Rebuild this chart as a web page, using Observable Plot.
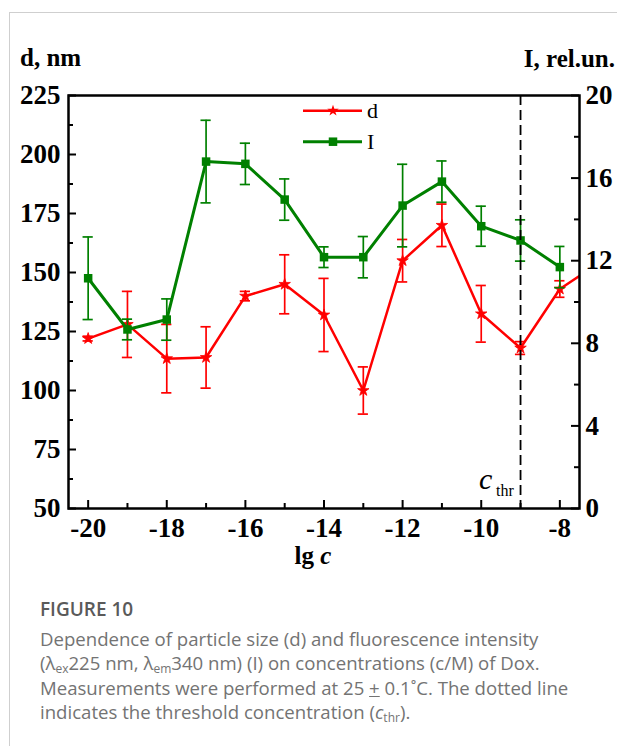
<!DOCTYPE html>
<html><head><meta charset="utf-8">
<script src="https://cdn.jsdelivr.net/npm/d3@7"></script>
<script src="https://cdn.jsdelivr.net/npm/@observablehq/plot@0.6"></script>
<style>
html,body{margin:0;padding:0;background:#fff;overflow:hidden;width:617px;height:746px;}
#box{position:absolute;left:9px;top:12px;width:800px;height:900px;border-left:1px solid #cfcfcf;border-top:1px solid #cfcfcf;}
#chart{position:absolute;left:0;top:0;}
#caption{position:absolute;left:40px;top:597px;font-family:"Open Sans";font-size:18.6px;line-height:24.2px;color:#737373;white-space:nowrap;}
#caption .fig{color:#5a5a5a;font-weight:600;font-size:19px;margin-bottom:6px;}
#caption sub{font-size:12px;line-height:12px;vertical-align:baseline;position:relative;top:3px;}
</style></head><body>
<div id="box"></div>
<div id="chart"></div>
<div id="caption">
<div class="fig">FIGURE 10</div>
Dependence of particle size (d) and fluorescence intensity<br>
(λ<sub>ex</sub>225 nm, λ<sub>em</sub>340 nm) (I) on concentrations (c/M) of Dox.<br>
Measurements were performed at 25 <u>+</u> 0.1˚C. The dotted line<br>
indicates the threshold concentration (<i>c</i><sub>thr</sub>).
</div>
<script>
// ---- data ----
const lgc   = [-20, -19, -18, -17, -16, -15, -14, -13, -12, -11, -10, -9, -8];
const dVals = [122, 128, 113.5, 114, 140, 145, 132, 100, 155, 170, 132.5, 118, 143];
const dErr  = [1, 14, 14.5, 13, 2, 12.5, 15.5, 10, 9, 9, 12, 2.7, 3.5];
const IVals = [11.15, 8.67, 9.15, 16.8, 16.69, 14.96, 12.17, 12.17, 14.67, 15.83, 13.67, 12.98, 11.69];
const IErr  = [2.0, 0.5, 1.0, 2.0, 1.0, 1.0, 0.5, 1.0, 2.0, 1.0, 0.97, 1.0, 1.0];
// red curve continues beyond the frame (clipped)
const lgcTail = [-7];
const dTail   = [154];
const cThr = -9;
const xMajor = [-20, -18, -16, -14, -12, -10, -8];
const xMinor = [-19, -17, -15, -13, -11, -9];
const dMajor = [50, 75, 100, 125, 150, 175, 200, 225];
const dMinor = [62.5, 87.5, 112.5, 137.5, 162.5, 187.5, 212.5];
const IMajor = [0, 4, 8, 12, 16, 20];
const IMinor = [2, 6, 10, 14, 18];

// ---- layout ----
const W = 617, H = 590, mL = 68, mR = 38, mT = 95, mB = 82;
const fw = W - mL - mR, fh = H - mT - mB;
const RED = "#ff0000", GREEN = "#008000";
const toD = i => 50 + i * 175 / 20;           // right axis (I) onto left axis (d)
const fromD = v => (v - 50) * 20 / 175;

const rows = lgc.map((x, k) => ({x, d: dVals[k], de: dErr[k], I: IVals[k], ie: IErr[k]}));
const redLine = rows.map(r => ({x: r.x, d: r.d})).concat(lgcTail.map((x, k) => ({x, d: dTail[k]})));
const cap = 0.13;

const chart = Plot.plot({
  width: W, height: H,
  marginLeft: mL, marginRight: mR, marginTop: mT, marginBottom: mB,
  style: {fontFamily: "Liberation Serif", fontSize: "27px", fontWeight: "bold", color: "black", background: "transparent"},
  x: {domain: [-20.5, -7.5]},
  y: {domain: [50, 225]},
  marks: [
    // ticks (inward)
    Plot.tickX(xMajor, {x: v => v, insetTop: fh - 8, stroke: "black", strokeWidth: 2}),
    Plot.tickX(xMinor, {x: v => v, insetTop: fh - 5, stroke: "black", strokeWidth: 2}),
    Plot.tickY(dMajor, {y: v => v, insetRight: fw - 8, stroke: "black", strokeWidth: 2}),
    Plot.tickY(dMinor, {y: v => v, insetRight: fw - 5, stroke: "black", strokeWidth: 2}),
    Plot.tickY(IMajor, {y: toD, insetLeft: fw - 8, stroke: "black", strokeWidth: 2}),
    Plot.tickY(IMinor, {y: toD, insetLeft: fw - 5, stroke: "black", strokeWidth: 2}),
    // axes labels
    Plot.axisX(xMajor, {anchor: "bottom", tickSize: 0, tickPadding: 9, tickFormat: v => String(v), label: null}),
    Plot.axisY(dMajor, {anchor: "left", tickSize: 0, tickPadding: 8, tickFormat: v => String(v), label: null}),
    Plot.axisY(IMajor.map(toD), {anchor: "right", tickSize: 0, tickPadding: 6, tickFormat: v => String(Math.round(fromD(v))), label: null}),
    // d series (red)
    Plot.line(redLine, {x: "x", y: "d", stroke: RED, strokeWidth: 2.5, clip: true}),
    Plot.ruleX(rows, {x: "x", y1: r => r.d - r.de, y2: r => r.d + r.de, stroke: RED, strokeWidth: 1.7}),
    Plot.ruleY(rows, {y: r => r.d - r.de, x1: r => r.x - cap, x2: r => r.x + cap, stroke: RED, strokeWidth: 1.7}),
    Plot.ruleY(rows, {y: r => r.d + r.de, x1: r => r.x - cap, x2: r => r.x + cap, stroke: RED, strokeWidth: 1.7}),
    Plot.dot(rows, {x: "x", y: "d", symbol: "star", r: 3.6, fill: RED, stroke: RED, strokeWidth: 0.8}),
    // I series (green)
    Plot.line(rows, {x: "x", y: r => toD(r.I), stroke: GREEN, strokeWidth: 3}),
    Plot.ruleX(rows, {x: "x", y1: r => toD(r.I - r.ie), y2: r => toD(r.I + r.ie), stroke: GREEN, strokeWidth: 1.7}),
    Plot.ruleY(rows, {y: r => toD(r.I - r.ie), x1: r => r.x - cap, x2: r => r.x + cap, stroke: GREEN, strokeWidth: 1.7}),
    Plot.ruleY(rows, {y: r => toD(r.I + r.ie), x1: r => r.x - cap, x2: r => r.x + cap, stroke: GREEN, strokeWidth: 1.7}),
    Plot.dot(rows, {x: "x", y: r => toD(r.I), symbol: "square", r: 4.8, fill: GREEN}),
    // threshold
    Plot.ruleX([cThr], {x: v => v, stroke: "black", strokeWidth: 1.8, strokeDasharray: "10,5"}),
    Plot.frame({stroke: "black", strokeWidth: 2.5})
  ]
});
document.getElementById("chart").appendChild(chart);

// ---- titles, legend, annotation ----
const svg = d3.select(chart);
const serif = "Liberation Serif";
svg.append("text").attr("x", 20).attr("y", 66).attr("text-anchor", "start").attr("font-family", serif).attr("font-size", 25).attr("font-weight", "bold").attr("fill", "black").text("d, nm");
svg.append("text").attr("x", 615).attr("y", 67).attr("text-anchor", "end").attr("font-family", serif).attr("font-size", 25).attr("font-weight", "bold").attr("fill", "black").text("I, rel.un.");
const xl = svg.append("text").attr("x", 313).attr("y", 564).attr("text-anchor", "middle").attr("font-family", serif).attr("font-size", 25).attr("font-weight", "bold").attr("fill", "black");
xl.append("tspan").text("lg ");
xl.append("tspan").attr("font-style", "italic").text("c");

const ct = svg.append("g").attr("font-family", serif).attr("fill", "black").attr("font-weight", "normal").attr("text-anchor", "start");
ct.append("text").attr("x", 479).attr("y", 489).attr("font-size", 30).attr("font-style", "italic").text("c");
ct.append("text").attr("x", 496).attr("y", 496).attr("font-size", 16).text("thr");

const lg = svg.append("g").attr("font-weight", "normal").attr("text-anchor", "start");
const items = [{label: "d", color: RED, sym: d3.symbolStar, r: 3.6, y: 110.7}, {label: "I", color: GREEN, sym: d3.symbolSquare, r: 4.8, y: 141.7}];
items.forEach(it => {
  lg.append("line").attr("x1", 303).attr("x2", 362).attr("y1", it.y).attr("y2", it.y).attr("stroke", it.color).attr("stroke-width", it.color === RED ? 2.5 : 3);
  lg.append("path").attr("transform", `translate(333,${it.y})`).attr("d", d3.symbol(it.sym, Math.PI * it.r * it.r)()).attr("fill", it.color);
  lg.append("text").attr("x", 367).attr("y", it.y + 7).attr("font-family", serif).attr("font-size", 22).attr("fill", "black").text(it.label);
});
</script>
</body></html>
